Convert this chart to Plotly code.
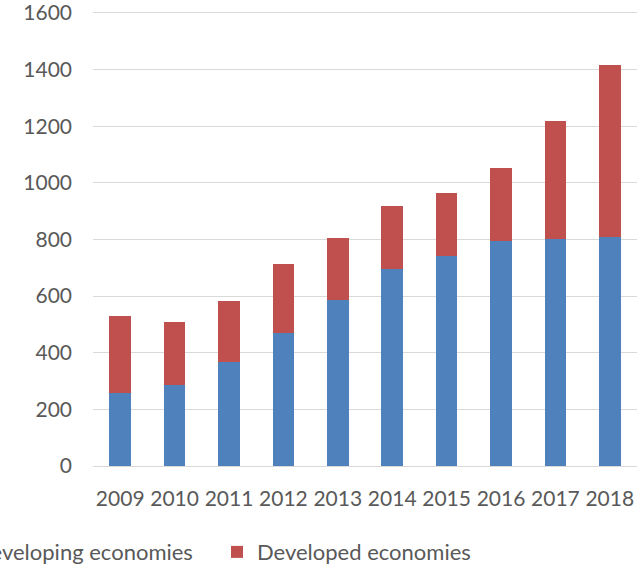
import plotly.graph_objects as go

years = ["2009", "2010", "2011", "2012", "2013", "2014", "2015", "2016", "2017", "2018"]
developing = [257, 285, 368, 469, 585, 696, 741, 795, 802, 808]
developed = [272, 224, 215, 245, 221, 222, 223, 258, 418, 608]
y_ticks = [0, 200, 400, 600, 800, 1000, 1200, 1400, 1600]

FONT = "Lato"
fig = go.Figure()
fig.add_trace(go.Bar(x=years, y=developing, name="Developing economies",
                     marker=dict(color="#4F81BD", line=dict(width=0)),
                     legend="legend"))
fig.add_trace(go.Bar(x=years, y=developed, name="Developed economies",
                     marker=dict(color="#C0504D", line=dict(width=0)),
                     legend="legend2"))

leg_font = dict(family=FONT, size=22, color="#595959")
fig.update_layout(
    barmode="stack",
    bargap=0.6,
    width=644, height=568,
    margin=dict(l=93, r=7, t=11, b=102, autoexpand=False),
    plot_bgcolor="white", paper_bgcolor="white",
    font=dict(family=FONT, size=21, color="#595959"),
    showlegend=True,
    legend=dict(orientation="h", xref="container", yref="container",
                x=198 / 644, xanchor="right", y=0.028, yanchor="middle",
                font=leg_font),
    legend2=dict(orientation="h", xref="container", yref="container",
                 x=217 / 644, xanchor="left", y=0.028, yanchor="middle",
                 font=leg_font),
    xaxis=dict(showgrid=False, showline=True, linecolor="#d9d9d9", linewidth=1,
               ticks="", ticklabelstandoff=14, automargin=False,
               ticklabeloverflow="allow"),
    yaxis=dict(range=[0, 1607], tickvals=y_ticks, showgrid=True, gridcolor="#d9d9d9",
               gridwidth=1, zeroline=False, ticks="", ticklabelstandoff=20,
               automargin=False, ticklabeloverflow="allow"),
)
fig.write_html("out.html", config={"displayModeBar": False},
               post_script="document.body.style.margin='0';document.body.style.padding='0';")
